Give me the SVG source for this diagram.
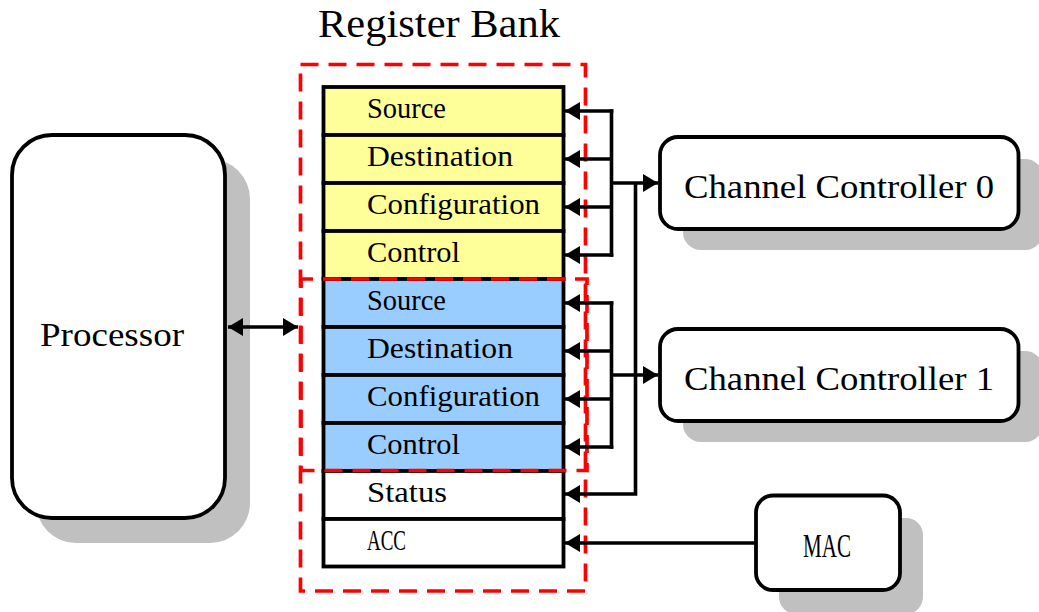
<svg xmlns="http://www.w3.org/2000/svg" width="1039" height="612" viewBox="0 0 1039 612">
  <style>
    .box { fill: #ffffff; stroke: #000000; stroke-width: 3.8; }
    .shadow { fill: #c0c0c0; stroke: none; }
    .reg { stroke: #000000; stroke-width: 3.8; }
    .ch0 { fill: #ffff99; }
    .ch1 { fill: #99ccff; }
    .plain { fill: #ffffff; }
    .group { fill: none; stroke: #ff0000; stroke-width: 3.7; stroke-dasharray: 18 10; }
    .wire { fill: none; stroke: #000000; stroke-width: 3.6; }
    .arrow { marker-end: url(#head); }
    .label { font-family: "Liberation Serif", "DejaVu Serif", serif; fill: #000000; }
    .regtxt { font-size: 29px; }
    .big { font-size: 34px; }
  </style>
  <defs>
    <marker id="head" markerUnits="userSpaceOnUse" markerWidth="16" markerHeight="18" viewBox="0 0 16 18" refX="15" refY="9" orient="auto-start-reverse">
      <path d="M0,0 L15,9 L0,18 Z" fill="#000000"/>
    </marker>
  </defs>

  <rect width="1039" height="612" fill="#ffffff"/>

  <!-- Title -->
  <text class="label" x="318" y="37" font-size="39" textLength="242" lengthAdjust="spacingAndGlyphs">Register Bank</text>

  <!-- Processor -->
  <g id="processor">
    <rect class="shadow" x="36" y="159" width="214" height="384" rx="40"/>
    <rect class="box" x="12" y="135" width="213" height="383" rx="40"/>
    <text class="label big" x="40" y="346" textLength="144" lengthAdjust="spacingAndGlyphs">Processor</text>
  </g>

  <!-- Register bank -->
  <g id="register-bank">
    <g id="reg-ch0">
      <rect class="reg ch0" x="323.5" y="87" width="240" height="48"/>
      <rect class="reg ch0" x="323.5" y="135" width="240" height="48"/>
      <rect class="reg ch0" x="323.5" y="183" width="240" height="48"/>
      <rect class="reg ch0" x="323.5" y="231" width="240" height="48"/>
      <text class="label regtxt" x="367" y="118" textLength="79" lengthAdjust="spacingAndGlyphs">Source</text>
      <text class="label regtxt" x="367" y="166" textLength="146" lengthAdjust="spacingAndGlyphs">Destination</text>
      <text class="label regtxt" x="367" y="214" textLength="173" lengthAdjust="spacingAndGlyphs">Configuration</text>
      <text class="label regtxt" x="367" y="262" textLength="93" lengthAdjust="spacingAndGlyphs">Control</text>
    </g>
    <g id="reg-ch1">
      <rect class="reg ch1" x="323.5" y="279" width="240" height="48"/>
      <rect class="reg ch1" x="323.5" y="327" width="240" height="48"/>
      <rect class="reg ch1" x="323.5" y="375" width="240" height="48"/>
      <rect class="reg ch1" x="323.5" y="423" width="240" height="48"/>
      <text class="label regtxt" x="367" y="310" textLength="79" lengthAdjust="spacingAndGlyphs">Source</text>
      <text class="label regtxt" x="367" y="358" textLength="146" lengthAdjust="spacingAndGlyphs">Destination</text>
      <text class="label regtxt" x="367" y="406" textLength="173" lengthAdjust="spacingAndGlyphs">Configuration</text>
      <text class="label regtxt" x="367" y="454" textLength="93" lengthAdjust="spacingAndGlyphs">Control</text>
    </g>
    <g id="reg-common">
      <rect class="reg plain" x="323.5" y="471" width="240" height="48"/>
      <rect class="reg plain" x="323.5" y="519" width="240" height="47.5"/>
      <text class="label regtxt" x="367" y="502" textLength="80" lengthAdjust="spacingAndGlyphs">Status</text>
      <text class="label regtxt" x="367" y="550" textLength="39" lengthAdjust="spacingAndGlyphs">ACC</text>
    </g>
    <!-- dashed grouping outlines -->
    <rect class="group" x="300.5" y="64.5" width="285" height="526.5"/>
    <rect class="group" x="301" y="279" width="286" height="191.5" stroke-dashoffset="6"/>
  </g>

  <!-- Channel Controller 0 -->
  <g id="channel-controller-0">
    <rect class="shadow" x="683" y="159" width="360" height="91" rx="18"/>
    <rect class="box" x="660" y="137" width="358.5" height="92" rx="18"/>
    <text class="label big" x="684" y="198" textLength="310" lengthAdjust="spacingAndGlyphs">Channel Controller 0</text>
  </g>

  <!-- Channel Controller 1 -->
  <g id="channel-controller-1">
    <rect class="shadow" x="683" y="351" width="360" height="91" rx="18"/>
    <rect class="box" x="660" y="329" width="358.5" height="92" rx="18"/>
    <text class="label big" x="684" y="390" textLength="310" lengthAdjust="spacingAndGlyphs">Channel Controller 1</text>
  </g>

  <!-- MAC -->
  <g id="mac">
    <rect class="shadow" x="779" y="518" width="144" height="96" rx="17"/>
    <rect class="box" x="756" y="495.5" width="144" height="94.5" rx="17"/>
    <text class="label big" x="803" y="557" textLength="48" lengthAdjust="spacingAndGlyphs">MAC</text>
  </g>

  <!-- Connectors -->
  <g id="connectors">
    <!-- processor <-> register bank -->
    <path class="wire" d="M228,327 H298" marker-start="url(#head)" marker-end="url(#head)"/>

    <!-- channel 0 bus -->
    <path class="wire" d="M611.5,109.2 V256.8"/>
    <path class="wire arrow" d="M613.3,111 H565"/>
    <path class="wire arrow" d="M611.5,159 H565"/>
    <path class="wire arrow" d="M611.5,207 H565"/>
    <path class="wire arrow" d="M613.3,255 H565"/>
    <path class="wire arrow" d="M611.5,183 H658"/>

    <!-- channel 1 bus -->
    <path class="wire" d="M611.5,301.2 V448.8"/>
    <path class="wire arrow" d="M613.3,303 H565"/>
    <path class="wire arrow" d="M611.5,351 H565"/>
    <path class="wire arrow" d="M611.5,399 H565"/>
    <path class="wire arrow" d="M613.3,447 H565"/>
    <path class="wire arrow" d="M611.5,375 H658"/>

    <!-- status feed from both controllers -->
    <path class="wire arrow" d="M635.5,183 V494 H565"/>

    <!-- MAC to ACC -->
    <path class="wire arrow" d="M756,543 H565"/>
  </g>
</svg>
